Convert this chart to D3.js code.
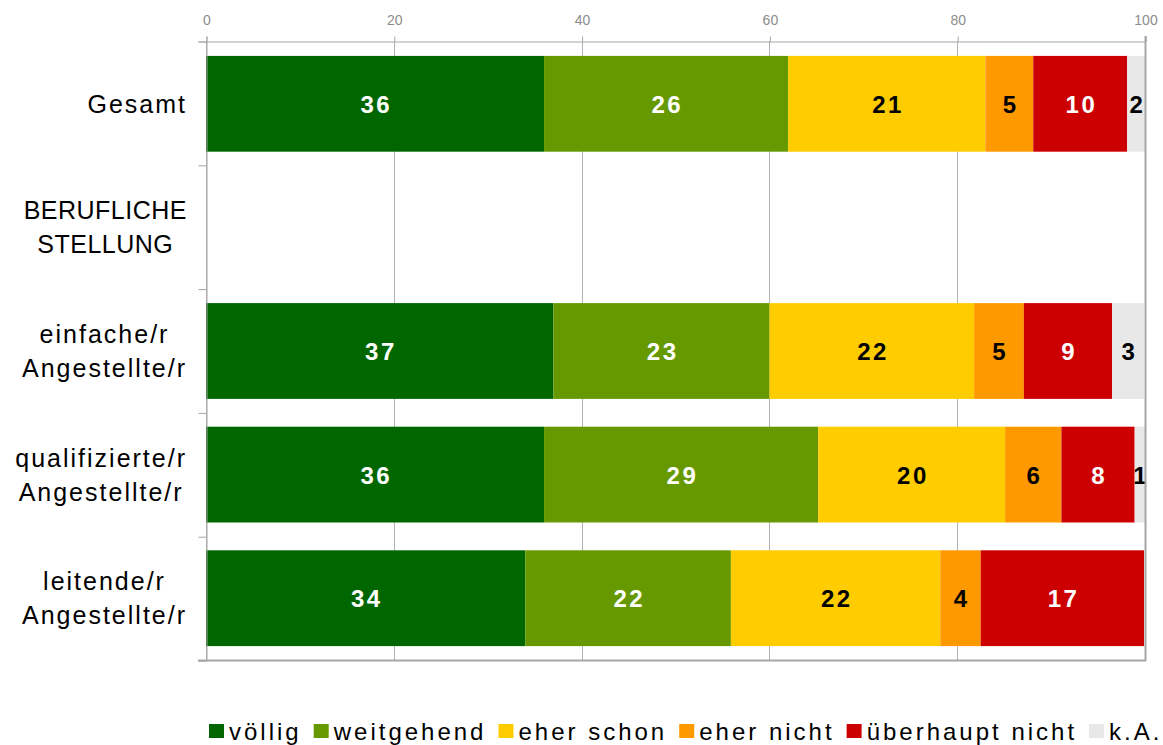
<!DOCTYPE html>
<html><head><meta charset="utf-8">
<script src="https://cdn.jsdelivr.net/npm/d3@7"></script>
<style>body{margin:0;background:#fff} svg{display:block}</style>
</head><body><svg id="c" width="1163" height="745"></svg>
<script>
// ---- data ----
const categories = ["Gesamt", "BERUFLICHE\nSTELLUNG", "einfache/r\nAngestellte/r", "qualifizierte/r\nAngestellte/r", "leitende/r\nAngestellte/r"];
const seriesNames = ["völlig", "weitgehend", "eher schon", "eher nicht", "überhaupt nicht", "k.A."];
const voellig     = [36.0, null, 37.0, 36.0, 34.0];
const weitgehend  = [26.0, null, 23.0, 29.2, 21.9];
const eherSchon   = [21.0, null, 21.8, 19.9, 22.3];
const eherNicht   = [5.1,  null, 5.3,  6.0,  4.3];
const ueberhaupt  = [10.0, null, 9.4,  7.8,  17.4];
const keineAngabe = [1.9,  null, 3.4,  1.1,  0];
const xTicks = [0, 20, 40, 60, 80, 100];

const seriesValues = [voellig, weitgehend, eherSchon, eherNicht, ueberhaupt, keineAngabe];
const colors = ["#006600", "#669900", "#FFCC00", "#FF9900", "#CC0000", "#E8E8E8"];
const labelColors = ["#fff", "#fff", "#000", "#000", "#fff", "#000"];

const table = categories.map((c, i) => {
  const row = {cat: c};
  seriesNames.forEach((s, j) => row[s] = seriesValues[j][i] || 0);
  row.empty = seriesValues.every(a => a[i] == null);
  return row;
});

const svg = d3.select("#c");
const L = 206, R = 1145, T = 41, B = 660;
const x = d3.scaleLinear().domain([0, 100]).range([L, R]);
const y = d3.scaleBand().domain(categories).range([T + 1, B]).paddingInner(0.225).paddingOuter(0.1125);
const yEdge = d3.scaleLinear().domain([0, categories.length]).range([T, B]);
const gridCol = "#b3b3b3";

// gridlines
svg.append("g").selectAll("line").data(xTicks).join("line")
  .attr("x1", d => Math.round(x(d)) + 0.5).attr("x2", d => Math.round(x(d)) + 0.5)
  .attr("y1", T).attr("y2", B).attr("stroke", gridCol).attr("stroke-width", 1);

// bars
const stack = d3.stack().keys(seriesNames)(table);
const layers = svg.append("g").selectAll("g").data(stack).join("g")
  .attr("fill", (d, i) => colors[i]);
layers.selectAll("rect").data(d => d.filter(p => !p.data.empty && p[1] - p[0] > 0)).join("rect")
  .attr("x", d => x(d[0])).attr("width", d => x(d[1]) - x(d[0]))
  .attr("y", d => y(d.data.cat)).attr("height", y.bandwidth());

// value labels
const vls = 2.5;
svg.append("g").selectAll("g").data(stack).join("g")
  .attr("fill", (d, i) => labelColors[i])
  .selectAll("text").data(d => d.filter(p => !p.data.empty && p[1] - p[0] > 0.5)).join("text")
  .attr("x", d => (x(d[0]) + x(d[1])) / 2 + vls / 2)
  .attr("y", d => y(d.data.cat) + y.bandwidth() / 2 + 9)
  .attr("text-anchor", "middle")
  .style("font-family", "'Liberation Sans', Arial, sans-serif")
  .style("font-weight", "bold").style("font-size", "24px").style("letter-spacing", vls + "px")
  .text(d => Math.round(d[1] - d[0]));

// plot border right & bottom
svg.append("line").attr("x1", R + 0.5).attr("x2", R + 0.5).attr("y1", T - 5).attr("y2", B + 1)
  .attr("stroke", "#a6a6a6").attr("stroke-width", 2);
svg.append("line").attr("x1", L - 8).attr("x2", R + 1).attr("y1", B + 0.5).attr("y2", B + 0.5)
  .attr("stroke", "#a6a6a6").attr("stroke-width", 2);

// top axis
const topAxis = svg.append("g").attr("transform", `translate(0.5,${T + 0.5})`)
  .call(d3.axisTop(x).tickValues(xTicks).tickSize(5).tickPadding(12).tickFormat(d3.format("d")));
topAxis.select(".domain").attr("stroke", "#a6a6a6");
topAxis.selectAll(".tick line").attr("stroke", "#a6a6a6");
topAxis.selectAll("text").attr("fill", "#8c8c8c")
  .style("font-family", "'Liberation Sans', Arial, sans-serif").style("font-size", "14px");

// left axis (ticks at category boundaries)
const leftAxis = svg.append("g").attr("transform", `translate(${L + 0.5},0.5)`)
  .call(d3.axisLeft(yEdge).tickValues(d3.range(categories.length + 1)).tickSize(8).tickFormat(""));
leftAxis.select(".domain").attr("stroke", "#a6a6a6");
leftAxis.selectAll(".tick line").attr("stroke", "#a6a6a6");

// category labels
const cls = 2, lineH = 34, capH = 18, labelRight = 186;
categories.forEach(c => {
  const lines = c.split("\n");
  const g = svg.append("g");
  const texts = lines.map((ln, i) => g.append("text")
    .attr("y", y(c) + y.bandwidth() / 2 + capH / 2 - (lines.length - 1) * lineH / 2 + i * lineH)
    .attr("text-anchor", "middle").attr("fill", "#000")
    .style("font-family", "'Liberation Sans', Arial, sans-serif").style("font-size", "25px")
    .style("letter-spacing", (ln === ln.toUpperCase() ? 0.5 : cls) + "px").text(ln));
  const widths = texts.map(t => t.node().getComputedTextLength());
  const maxW = d3.max(widths);
  texts.forEach(t => t.attr("x", labelRight - maxW / 2 + cls / 2));
});

// legend
const lg = svg.append("g");
let lx = 209;
const lls = 3;
seriesNames.forEach((s, i) => {
  lg.append("rect").attr("x", lx).attr("y", 724).attr("width", 15).attr("height", 14).attr("fill", colors[i]);
  const t = lg.append("text").attr("x", lx + 20).attr("y", 740)
    .style("font-family", "'Liberation Sans', Arial, sans-serif").style("font-size", "24px")
    .style("letter-spacing", lls + "px").attr("fill", "#000").text(s);
  lx += 20 + t.node().getComputedTextLength() + 12;
});
</script></body></html>
